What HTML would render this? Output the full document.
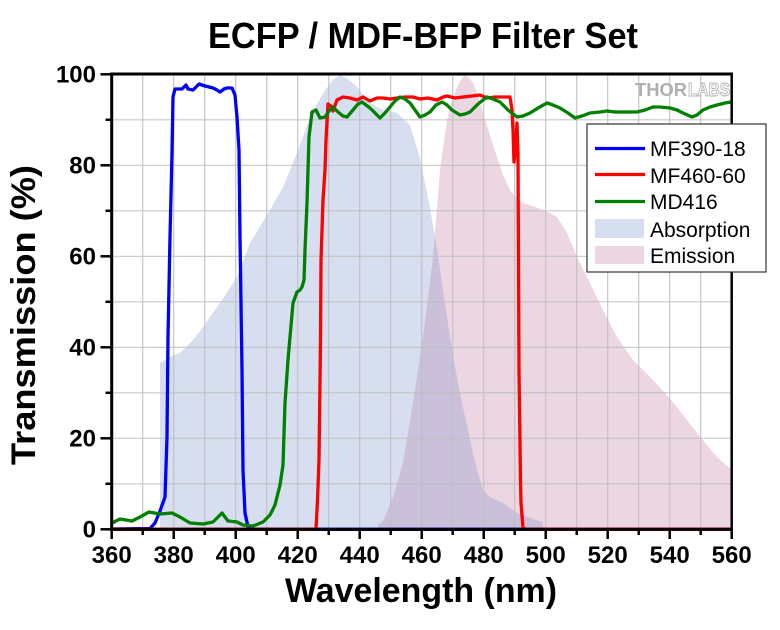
<!DOCTYPE html>
<html>
<head>
<meta charset="utf-8">
<style>
html,body{margin:0;padding:0;background:#fff;}
svg{display:block;}
text{font-family:"Liberation Sans",Arial,sans-serif;}
</style>
</head>
<body>
<svg width="780" height="630" viewBox="0 0 780 630" xmlns="http://www.w3.org/2000/svg">
<rect x="0" y="0" width="780" height="630" fill="#fff"/>
<defs>
<clipPath id="absClip">
<polygon points="160,529.3 160,363 170,357 180,353 193,340 203,327 220,303 237,277 250,243 270,210 283,187 297,153 310,117 323,93 333,80 340,75 348,79 357,87 370,103 383,110 397,113 410,125 420,158 430,208 437,248 443,290 450,337 456,372 462,403 468,430 473,453 478,473 483,490 490,497 503,503 517,513 530,518 543,522 543,529.3"/>
</clipPath>
</defs>

<text x="208" y="48" font-size="36" font-weight="bold" textLength="430" lengthAdjust="spacingAndGlyphs">ECFP / MDF-BFP Filter Set</text>

<polygon fill="#d6def0" points="160,529.3 160,363 170,357 180,353 193,340 203,327 220,303 237,277 250,243 270,210 283,187 297,153 310,117 323,93 333,80 340,75 348,79 357,87 370,103 383,110 397,113 410,125 420,158 430,208 437,248 443,290 450,337 456,372 462,403 468,430 473,453 478,473 483,490 490,497 503,503 517,513 530,518 543,522 543,529.3"/>
<polygon fill="#ecd6e2" points="378,529.3 378,525 383,521 393,497 403,463 413,403 423,337 433,257 440,170 447,120 452,100 457,87 462,78 465,75 469,78 473,83 478,95 483,113 490,135 497,157 503,175 510,190 517,198 523,203 533,206 543,210 550,213 557,217 567,233 577,257 590,283 603,310 617,337 633,360 653,380 665,393 677,407 697,433 717,457 732,470 732,529.3"/>
<g clip-path="url(#absClip)">
<polygon fill="#cbc0da" points="378,529.3 378,525 383,521 393,497 403,463 413,403 423,337 433,257 440,170 447,120 452,100 457,87 462,78 465,75 469,78 473,83 478,95 483,113 490,135 497,157 503,175 510,190 517,198 523,203 533,206 543,210 550,213 557,217 567,233 577,257 590,283 603,310 617,337 633,360 653,380 665,393 677,407 697,433 717,457 732,470 732,529.3"/>
</g>

<g stroke="#bdbdbd" stroke-width="1.2" stroke-opacity="0.85">
<line x1="142.7" y1="74" x2="142.7" y2="529"/>
<line x1="173.7" y1="74" x2="173.7" y2="529"/>
<line x1="204.7" y1="74" x2="204.7" y2="529"/>
<line x1="235.7" y1="74" x2="235.7" y2="529"/>
<line x1="266.7" y1="74" x2="266.7" y2="529"/>
<line x1="297.7" y1="74" x2="297.7" y2="529"/>
<line x1="328.7" y1="74" x2="328.7" y2="529"/>
<line x1="359.7" y1="74" x2="359.7" y2="529"/>
<line x1="390.7" y1="74" x2="390.7" y2="529"/>
<line x1="421.7" y1="74" x2="421.7" y2="529"/>
<line x1="452.7" y1="74" x2="452.7" y2="529"/>
<line x1="483.7" y1="74" x2="483.7" y2="529"/>
<line x1="514.7" y1="74" x2="514.7" y2="529"/>
<line x1="545.7" y1="74" x2="545.7" y2="529"/>
<line x1="576.7" y1="74" x2="576.7" y2="529"/>
<line x1="607.7" y1="74" x2="607.7" y2="529"/>
<line x1="638.7" y1="74" x2="638.7" y2="529"/>
<line x1="669.7" y1="74" x2="669.7" y2="529"/>
<line x1="700.7" y1="74" x2="700.7" y2="529"/>
<line x1="112" y1="483.8" x2="731.7" y2="483.8"/>
<line x1="112" y1="438.3" x2="731.7" y2="438.3"/>
<line x1="112" y1="392.8" x2="731.7" y2="392.8"/>
<line x1="112" y1="347.3" x2="731.7" y2="347.3"/>
<line x1="112" y1="301.8" x2="731.7" y2="301.8"/>
<line x1="112" y1="256.3" x2="731.7" y2="256.3"/>
<line x1="112" y1="210.8" x2="731.7" y2="210.8"/>
<line x1="112" y1="165.3" x2="731.7" y2="165.3"/>
<line x1="112" y1="119.8" x2="731.7" y2="119.8"/>
</g>

<text x="635" y="96" font-size="18" font-weight="bold" fill="#b0b0b0" textLength="52" lengthAdjust="spacingAndGlyphs">THOR</text>
<text x="688" y="96" font-size="18" font-weight="bold" fill="#ffffff" stroke="#b0b0b0" stroke-width="0.9" textLength="42" lengthAdjust="spacingAndGlyphs">LABS</text>

<polyline fill="none" stroke="#0000ff" stroke-width="3.3" stroke-linejoin="round" points="111.7,529 150,528.5 155,523 160,511 165,497 167,437 168,337 170,237 172,153 173,97 175,89 182,89 186,85 188,89 193,90 199,84 205,86 209,87 213,88 217,90 220,92 224,89 227,88 232,88 235,95 237,117 239,150 240,237 242,370 243,470 245,513 248,527 255,529.3 731.7,529.3"/>

<polyline fill="none" stroke="#ff0000" stroke-width="3.3" stroke-linejoin="round" points="111.7,529.3 316,529.3 317.5,500 319,460 320.5,340 321,260 323,200 325,170 326,140 328,104 331,106 333,111 337,100 343,97 350,98 357,100 363,97 370,101 377,98 383,98 390,99 397,98 405,97 413,97 420,99 428,98 437,100 443,97 447,96 455,98 463,97 472,96 480,95 487,98 495,97 503,97 510,97 512,110 513,130 514,162 515.5,150 517,123 518,153 519,370 520.5,480 521,503 523,528 526,529.3 731.7,529.3"/>

<polyline fill="none" stroke="#008000" stroke-width="3.3" stroke-linejoin="round" points="112,523 120,519 132,521 140,517 149,512 160,514 172,513 180,517 190,523 203,524 213,522 222,513 228,521 237,522 243,525 253,526 263,522 270,515 275,505 280,485 283,465 285,403 288,360 290,337 293,303 297,292 300,290 302,287 304,280 305,250 307,203 309,137 312,112 316,110 320,118 325,117 329,111 333,107 338,112 343,116 347,117 353,110 358,104 362,102 366,105 370,108 375,113 380,118 385,113 390,107 395,101 400,97 405,99 410,103 415,110 420,117 425,115 430,112 436,105 442,102 447,105 452,110 460,115 465,114 470,112 478,104 487,97 493,99 500,102 508,110 517,117 523,116 530,113 538,108 547,103 553,105 560,108 568,113 575,118 582,116 590,113 600,112 607,111 615,112 623,112 630,112 637,112 645,110 653,107 660,107 670,108 677,110 683,113 692,117 697,115 703,110 710,107 717,105 725,103 731,102"/>

<line x1="110" y1="74" x2="733" y2="74" stroke="#000" stroke-width="3"/>
<line x1="731.7" y1="74" x2="731.7" y2="530" stroke="#000" stroke-width="2.5"/>
<line x1="111.7" y1="72.5" x2="111.7" y2="531" stroke="#000" stroke-width="3"/>
<line x1="110" y1="529.3" x2="733" y2="529.3" stroke="#000" stroke-width="3"/>

<g stroke="#000" stroke-width="2.5">
<line x1="100.5" y1="74.3" x2="111.7" y2="74.3"/>
<line x1="105.5" y1="119.8" x2="111.7" y2="119.8"/>
<line x1="100.5" y1="165.3" x2="111.7" y2="165.3"/>
<line x1="105.5" y1="210.8" x2="111.7" y2="210.8"/>
<line x1="100.5" y1="256.3" x2="111.7" y2="256.3"/>
<line x1="105.5" y1="301.8" x2="111.7" y2="301.8"/>
<line x1="100.5" y1="347.3" x2="111.7" y2="347.3"/>
<line x1="105.5" y1="392.8" x2="111.7" y2="392.8"/>
<line x1="100.5" y1="438.3" x2="111.7" y2="438.3"/>
<line x1="105.5" y1="483.8" x2="111.7" y2="483.8"/>
<line x1="100.5" y1="529.3" x2="111.7" y2="529.3"/>
<line x1="111.7" y1="529.3" x2="111.7" y2="539"/>
<line x1="142.7" y1="529.3" x2="142.7" y2="535"/>
<line x1="173.7" y1="529.3" x2="173.7" y2="539"/>
<line x1="204.7" y1="529.3" x2="204.7" y2="535"/>
<line x1="235.7" y1="529.3" x2="235.7" y2="539"/>
<line x1="266.7" y1="529.3" x2="266.7" y2="535"/>
<line x1="297.7" y1="529.3" x2="297.7" y2="539"/>
<line x1="328.7" y1="529.3" x2="328.7" y2="535"/>
<line x1="359.7" y1="529.3" x2="359.7" y2="539"/>
<line x1="390.7" y1="529.3" x2="390.7" y2="535"/>
<line x1="421.7" y1="529.3" x2="421.7" y2="539"/>
<line x1="452.7" y1="529.3" x2="452.7" y2="535"/>
<line x1="483.7" y1="529.3" x2="483.7" y2="539"/>
<line x1="514.7" y1="529.3" x2="514.7" y2="535"/>
<line x1="545.7" y1="529.3" x2="545.7" y2="539"/>
<line x1="576.7" y1="529.3" x2="576.7" y2="535"/>
<line x1="607.7" y1="529.3" x2="607.7" y2="539"/>
<line x1="638.7" y1="529.3" x2="638.7" y2="535"/>
<line x1="669.7" y1="529.3" x2="669.7" y2="539"/>
<line x1="700.7" y1="529.3" x2="700.7" y2="535"/>
<line x1="731.7" y1="529.3" x2="731.7" y2="539"/>
</g>

<g font-size="24" font-weight="bold" text-anchor="end" fill="#000">
<text x="96" y="82.5">100</text>
<text x="96" y="173.5">80</text>
<text x="96" y="264.5">60</text>
<text x="96" y="355.5">40</text>
<text x="96" y="446.5">20</text>
<text x="96" y="537.5">0</text>
</g>

<g font-size="24" font-weight="bold" text-anchor="middle" fill="#000">
<text x="111.7" y="563">360</text>
<text x="173.7" y="563">380</text>
<text x="235.7" y="563">400</text>
<text x="297.7" y="563">420</text>
<text x="359.7" y="563">440</text>
<text x="421.7" y="563">460</text>
<text x="483.7" y="563">480</text>
<text x="545.7" y="563">500</text>
<text x="607.7" y="563">520</text>
<text x="669.7" y="563">540</text>
<text x="731.7" y="563">560</text>
</g>

<text x="285" y="602" font-size="34" font-weight="bold" textLength="272" lengthAdjust="spacingAndGlyphs">Wavelength (nm)</text>
<text transform="translate(35,315) rotate(-90)" x="0" y="0" font-size="34" font-weight="bold" text-anchor="middle" textLength="300" lengthAdjust="spacingAndGlyphs">Transmission (%)</text>

<rect x="587" y="124" width="179" height="148" fill="#fff" stroke="#333" stroke-width="1.2"/>
<line x1="595" y1="148.5" x2="645" y2="148.5" stroke="#0000ff" stroke-width="3.2"/>
<line x1="595" y1="174.5" x2="645" y2="174.5" stroke="#ff0000" stroke-width="3.2"/>
<line x1="595" y1="201.5" x2="645" y2="201.5" stroke="#008000" stroke-width="3.2"/>
<rect x="595" y="219" width="49" height="19" fill="#d6def0"/>
<rect x="595" y="246" width="49" height="18" fill="#ecd6e2"/>
<g font-size="21" fill="#000">
<text x="650" y="156">MF390-18</text>
<text x="650" y="183">MF460-60</text>
<text x="650" y="209">MD416</text>
<text x="650" y="237">Absorption</text>
<text x="650" y="263">Emission</text>
</g>
</svg>
</body>
</html>
